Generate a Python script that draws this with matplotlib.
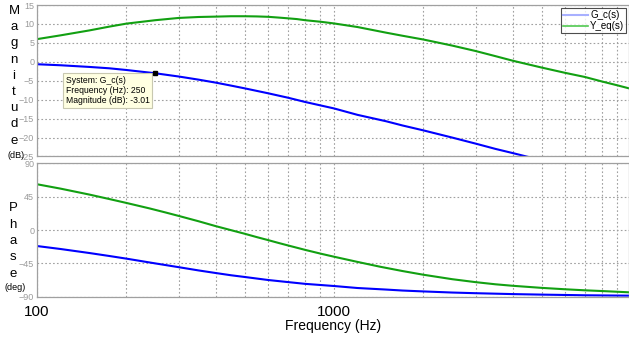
import numpy as np
import matplotlib.pyplot as plt
from matplotlib.lines import Line2D

plt.rcParams['font.family'] = ['Liberation Sans', 'DejaVu Sans']

# --- data (frequency in Hz) ---
f_gc_mag = [100, 120, 150, 175, 200, 250, 300, 350, 400, 450, 500, 600, 700, 800, 1000,
            1200, 1500, 1700, 2000, 2500, 3000, 3500, 4000, 5000, 7000, 9850]
gc_mag = [-0.63, -0.9, -1.34, -1.7, -2.15, -3.01, -3.87, -4.7, -5.49, -6.27, -6.99, -8.3, -9.47, -10.6, -12.3,
          -14.0, -15.7, -16.8, -18.1, -20.0, -21.6, -23.0, -24.1, -26.0, -28.9, -31.9]

f_yeq_mag = [100, 120, 150, 175, 200, 250, 300, 350, 400, 450, 500, 550, 600, 650, 700, 750, 800, 900, 1000,
             1200, 1500, 1700, 2000, 2500, 3000, 3500, 4000, 4500, 5000, 6000, 7000, 8000, 9000, 9850]
yeq_mag = [6.0, 7.0, 8.3, 9.3, 10.1, 11.0, 11.6, 11.85, 11.95, 12.05, 12.05, 12.0, 11.9, 11.7, 11.5, 11.3, 11.0, 10.6, 10.15,
           9.2, 7.7, 6.9, 5.9, 4.3, 2.86, 1.5, 0.3, -0.65, -1.5, -2.9, -4.0, -5.2, -6.2, -7.0]

f_gc_ph = [100, 120, 150, 175, 200, 250, 300, 350, 400, 450, 500, 600, 700, 800, 1000,
           1200, 1500, 1700, 2000, 2500, 3000, 4000, 5000, 7000, 9850]
gc_ph = [-21.6, -25.6, -31.0, -35.0, -38.6, -45.0, -50.1, -54.5, -58.0, -61.0, -63.3, -67.4, -70.2, -72.6, -75.5,
         -78.2, -80.3, -81.6, -82.8, -84.3, -85.2, -86.4, -87.1, -88.0, -88.5]

f_yeq_ph = [100, 120, 150, 175, 200, 240, 270, 300, 350, 400, 450, 500, 550, 600, 650, 700, 800, 900, 1000,
            1200, 1430, 1700, 2000, 2500, 3000, 3500, 4000, 5000, 6000, 7000, 8000, 9850]
yeq_ph = [61.7, 55.8, 47.8, 41.8, 36.5, 29.0, 23.8, 19.0, 11.8, 5.2, -0.2, -5.0, -9.6, -13.6, -17.4, -20.8, -26.8, -31.8, -36.0,
          -43.0, -49.5, -55.3, -60.3, -66.3, -70.3, -73.2, -75.2, -78.0, -79.9, -81.3, -82.3, -84.0]

mag_ticks = [-25, -20, -15, -10, -5, 0, 5, 10, 15]
ph_ticks = [-90, -45, 0, 45, 90]
x_ticks = [100, 1000]

tip_f, tip_db = 250, -3.01

blue = '#0000ff'
green = '#12a012'
grid_kw = dict(color='#a0a0a0', linestyle=(0, (1.5, 2)), linewidth=0.8)

fig = plt.figure(figsize=(6.29, 3.38), dpi=100)
ax1 = fig.add_axes([0.0588, 0.537, 0.9412, 0.448])
ax2 = fig.add_axes([0.0588, 0.122, 0.9412, 0.395])

ax1.semilogx(f_gc_mag, gc_mag, color=blue, lw=1.5)
ax1.semilogx(f_yeq_mag, yeq_mag, color=green, lw=1.5)
ax2.semilogx(f_gc_ph, gc_ph, color=blue, lw=1.5)
ax2.semilogx(f_yeq_ph, yeq_ph, color=green, lw=1.5)

for ax, ticks in ((ax1, mag_ticks), (ax2, ph_ticks)):
    ax.set_xlim(100, 9850)
    ax.set_ylim(ticks[0], ticks[-1])
    ax.set_yticks(ticks)
    ax.grid(True, which='both', axis='x', **grid_kw)
    ax.grid(True, which='major', axis='y', **grid_kw)
    ax.tick_params(axis='y', labelsize=6.5, labelcolor='#9a9a9a', length=0, pad=2)
    ax.tick_params(axis='x', which='both', length=0)
    for s in ax.spines.values():
        s.set_color('#a0a0a0')
        s.set_linewidth(0.9)

ax1.tick_params(axis='x', which='both', labelbottom=False)
ax2.set_xticks(x_ticks)
ax2.set_xticklabels([str(t) for t in x_ticks])
ax2.xaxis.set_minor_formatter(plt.NullFormatter())
ax2.tick_params(axis='x', labelsize=11, pad=6)

# data tip
ax1.plot([tip_f], [tip_db], 's', color='black', ms=3, zorder=5)
ax1.text(125, -3.75, f"System: G_c(s)\nFrequency (Hz): {tip_f}\nMagnitude (dB): {tip_db:.2f}",
         fontsize=6.2, va='top', ha='left', linespacing=1.15,
         bbox=dict(boxstyle='square,pad=0.3', fc='#ffffe1', ec='#c8c8b0', lw=0.8))

# legend
handles = [Line2D([], [], color='#a8b0ff', lw=1.5), Line2D([], [], color='#50c850', lw=1.2)]
leg = ax1.legend(handles, ['G_c(s)', 'Y_eq(s)'], loc='upper right', fontsize=7,
                 frameon=True, fancybox=False, borderpad=0.2, handlelength=2.6,
                 handletextpad=0.2, labelspacing=0.1, borderaxespad=0.3)
leg.get_frame().set_edgecolor('#202020')
leg.get_frame().set_linewidth(0.8)

# stacked y labels
for i, ch in enumerate('Magnitude'):
    fig.text(14 / 629, 1 - (11 + i * 16.2) / 338, ch, fontsize=9.5, ha='center', va='center')
fig.text(16 / 629, 1 - 156 / 338, '(dB)', fontsize=6.5, ha='center', va='center')
for i, ch in enumerate('Phase'):
    fig.text(13 / 629, 1 - (208 + i * 16.5) / 338, ch, fontsize=9.5, ha='center', va='center')
fig.text(15 / 629, 1 - 287 / 338, '(deg)', fontsize=6.5, ha='center', va='center')

fig.text(333 / 629, 1 - 326 / 338, 'Frequency (Hz)', fontsize=10, ha='center', va='center')

fig.savefig('out.png', dpi=100)
